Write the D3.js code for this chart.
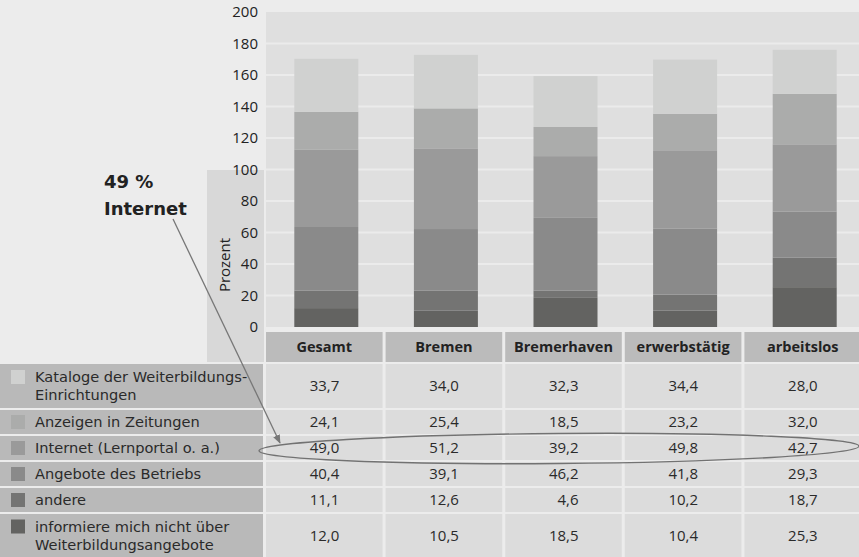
<!DOCTYPE html>
<html><head><meta charset="utf-8">
<script src="https://cdn.jsdelivr.net/npm/d3@7"></script>
<style>
body{margin:0;background:#ececec}
svg{display:block}
</style>
</head><body>
<svg id="c" width="859" height="557" font-family="Open Sans, sans-serif"></svg>
<script>
// ---- data ----
const categories = ["Gesamt", "Bremen", "Bremerhaven", "erwerbstätig", "arbeitslos"];
const seriesKeys = ["kataloge", "anzeigen", "internet", "angebote", "andere", "informiere"];
const seriesLabels = [
  ["Kataloge der Weiterbildungs-", "Einrichtungen"],
  ["Anzeigen in Zeitungen"],
  ["Internet (Lernportal o. a.)"],
  ["Angebote des Betriebs"],
  ["andere"],
  ["informiere mich nicht über", "Weiterbildungsangebote"]
];
const kataloge   = [33.7, 34.0, 32.3, 34.4, 28.0];
const anzeigen   = [24.1, 25.4, 18.5, 23.2, 32.0];
const internet   = [49.0, 51.2, 39.2, 49.8, 42.7];
const angebote   = [40.4, 39.1, 46.2, 41.8, 29.3];
const andere     = [11.1, 12.6, 4.6, 10.2, 18.7];
const informiere = [12.0, 10.5, 18.5, 10.4, 25.3];
const yTicks = [0, 20, 40, 60, 80, 100, 120, 140, 160, 180, 200];
const seriesColors = ["#d0d1d0", "#abacab", "#9a9a9a", "#8a8a8a", "#747473", "#636361"];
const annotation = ["49 %", "Internet"];
const yTitle = "Prozent";

const seriesValues = {kataloge, anzeigen, internet, angebote, andere, informiere};
const rows = categories.map((c, i) => {
  const o = {cat: c};
  seriesKeys.forEach(k => o[k] = seriesValues[k][i]);
  return o;
});

const svg = d3.select("#c");
const locale = d3.formatLocale({decimal: ",", thousands: ".", grouping: [3], currency: ["", "€"]});
const fmt = locale.format(".1f");

// ---- scales ----
const x = d3.scaleBand().domain(categories).range([266, 864]).padding(0);
const y = d3.scaleLinear().domain([0, 200]).range([327, 12]);
const color = d3.scaleOrdinal().domain(seriesKeys).range(seriesColors);
const barW = 64;

// left grey panel
svg.append("rect").attr("x", 207).attr("y", 170).attr("width", 57).attr("height", 192).attr("fill", "#d8d8d8");

// plot background
svg.append("rect").attr("x", 266).attr("y", y(200)).attr("width", 859 - 266).attr("height", y(0) - y(200)).attr("fill", "#dfdfdf");

// gridlines
svg.append("g").selectAll("line").data(yTicks.filter(t => t > 0 && t < 200)).join("line")
  .attr("x1", 266).attr("x2", 859).attr("y1", d => y(d)).attr("y2", d => y(d))
  .attr("stroke", "#ebebeb").attr("stroke-width", 2);

// stacked bars (bottom: informiere ... top: kataloge)
const stack = d3.stack().keys(seriesKeys.slice().reverse());
const stacked = stack(rows);
svg.append("g").selectAll("g").data(stacked).join("g")
  .attr("fill", d => color(d.key))
  .selectAll("rect").data(d => d).join("rect")
  .attr("x", d => x(d.data.cat) + (x.bandwidth() - barW) / 2 + 0.5)
  .attr("width", barW)
  .attr("y", d => y(d[1]))
  .attr("height", d => y(d[0]) - y(d[1]));

// y axis
const ax = svg.append("g").attr("transform", "translate(266,0)")
  .call(d3.axisLeft(y).tickValues(yTicks).tickSize(0).tickPadding(8));
ax.select(".domain").remove();
ax.attr("font-family", null);
ax.selectAll("text").attr("font-family", "Open Sans").attr("font-size", 15).attr("fill", "#222");

svg.append("text").attr("transform", "translate(230,265) rotate(-90)")
  .attr("text-anchor", "middle").attr("font-size", 15).attr("fill", "#222").text(yTitle);

// ---- table ----
const headerY = 332, headerH = 30;
const rowH = [44, 24, 24, 24, 24, 43];
const rowY = [];
let yy = 364;
rowH.forEach(h => { rowY.push(yy); yy += h + 2; });

const colW = x.bandwidth() - 3;
// header
const hdr = svg.append("g");
categories.forEach(c => {
  hdr.append("rect").attr("x", x(c)).attr("y", headerY).attr("width", Math.min(colW, 859 - x(c))).attr("height", headerH).attr("fill", "#bbbbbb");
  hdr.append("text").attr("x", x(c) + colW / 2).attr("y", headerY + headerH / 2 + 5)
    .attr("text-anchor", "middle").attr("font-size", 14.5).attr("font-weight", "bold").attr("fill", "#222").text(c);
});

// rows
seriesKeys.forEach((k, i) => {
  const g = svg.append("g");
  const ry = rowY[i], rh = rowH[i];
  g.append("rect").attr("x", 0).attr("y", ry).attr("width", 263).attr("height", rh).attr("fill", "#b9b9b9");
  const lines = seriesLabels[i];
  const lh = 18;
  const firstY = ry + rh / 2 - (lines.length - 1) * lh / 2 + 5;
  g.append("rect").attr("x", 11).attr("y", firstY - 12).attr("width", 14).attr("height", 14).attr("fill", seriesColors[i]);
  lines.forEach((t, j) => {
    g.append("text").attr("x", 35).attr("y", firstY + j * lh)
      .attr("font-family", "DejaVu Sans").attr("font-size", 14.6).attr("fill", "#2a2a2a").text(t);
  });
  categories.forEach((c, ci) => {
    g.append("rect").attr("x", x(c)).attr("y", ry).attr("width", Math.min(colW, 859 - x(c))).attr("height", rh).attr("fill", "#dcdcdc");
    g.append("text").attr("x", x(c) + colW / 2 + 15).attr("y", ry + rh / 2 + 5)
      .attr("text-anchor", "end").attr("font-size", 15).attr("fill", "#2a2a2a")
      .text(fmt(seriesValues[k][ci]));
  });
});

// ---- annotation ----
svg.append("defs").append("marker").attr("id", "arr").attr("viewBox", "0 0 10 10")
  .attr("refX", 9).attr("refY", 5).attr("markerWidth", 9).attr("markerHeight", 9)
  .attr("orient", "auto").attr("markerUnits", "userSpaceOnUse")
  .append("path").attr("d", "M0,1 L10,5 L0,9 Z").attr("fill", "#777");

svg.append("text").attr("x", 104).attr("y", 188).attr("font-family", "DejaVu Sans").attr("font-size", 18).attr("font-weight", "bold").attr("fill", "#222").text(annotation[0]);
svg.append("text").attr("x", 104).attr("y", 215).attr("font-family", "DejaVu Sans").attr("font-size", 18).attr("font-weight", "bold").attr("fill", "#222").text(annotation[1]);
svg.append("line").attr("x1", 173).attr("y1", 219).attr("x2", 280).attr("y2", 443)
  .attr("stroke", "#777").attr("stroke-width", 1.3).attr("marker-end", "url(#arr)");

svg.append("ellipse").attr("cx", 559).attr("cy", 448.5).attr("rx", 300).attr("ry", 15)
  .attr("transform", "rotate(-0.45,559,448.5)")
  .attr("fill", "none").attr("stroke", "#727272").attr("stroke-width", 1.4);
</script>
</body></html>
